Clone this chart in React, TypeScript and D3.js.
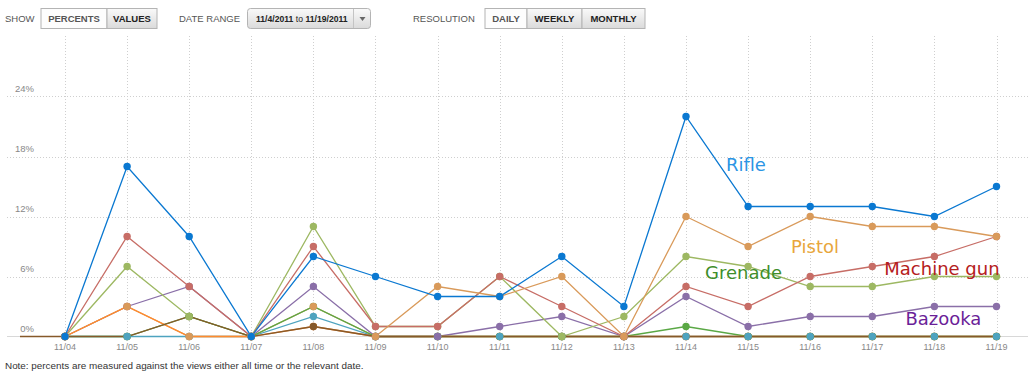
import React, { useEffect } from "react";
import * as d3 from "d3";

const dates = ["11/04","11/05","11/06","11/07","11/08","11/09","11/10","11/11","11/12","11/13","11/14","11/15","11/16","11/17","11/18","11/19"];
const yTicks = [0, 6, 12, 18, 24];

const rifle = [0,17,10,0,8,6,4,4,8,3,22,13,13,13,12,15];
const pistol = [0,3,0,0,3,0,5,4,6,0,12,9,12,11,11,10];
const machineGun = [0,10,5,0,9,1,1,6,3,0,5,3,6,7,8,10];
const grenade = [0,7,2,0,11,1,1,6,0,2,8,7,5,5,6,6];
const bazooka = [0,3,5,0,5,0,0,1,2,0,4,1,2,2,3,3];
const teal = [0,0,0,0,2,0,0,0,0,0,0,0,0,0,0,0];
const darkGreen = [0,0,2,0,3,0,0,0,0,0,1,0,0,0,0,0];
const orange = [0,3,0,0,1,0,0,0,0,0,0,0,0,0,0,0];
// brown series starts one day earlier (11/03), clipped at the left
const brown = [0,0,0,2,0,1,0,0,0,0,0,0,0,0,0,0,0];

type S = { key: string; values: number[]; start: number; color: string };
const series: S[] = [
  { key: "orange", values: orange, start: 0, color: "#ff8a2e" },
  { key: "brown", values: brown, start: -1, color: "#86592a" },
  { key: "darkGreen", values: darkGreen, start: 0, color: "#5aa845" },
  { key: "teal", values: teal, start: 0, color: "#4ea3bf" },
  { key: "bazooka", values: bazooka, start: 0, color: "#8a6fa8" },
  { key: "grenade", values: grenade, start: 0, color: "#9db862" },
  { key: "machineGun", values: machineGun, start: 0, color: "#c76d66" },
  { key: "pistol", values: pistol, start: 0, color: "#d99a5a" },
  { key: "rifle", values: rifle, start: 0, color: "#0a78d1" },
];
const lineOrder = ["teal","bazooka","grenade","machineGun","pistol","darkGreen","orange","brown","rifle"];

const labels = [
  { text: "Rifle", color: "#2b95e4", i: 10, dx: 40, v: 16.6 },
  { text: "Pistol", color: "#e8a63c", i: 11, dx: 43, v: 8.35 },
  { text: "Grenade", color: "#3f8e2b", i: 10, dx: 19, v: 5.8 },
  { text: "Machine gun", color: "#b52020", i: 13, dx: 12, v: 6.2 },
  { text: "Bazooka", color: "#6b1f98", i: 14, dx: -29, v: 1.15 },
];

export default function App() {
  useEffect(() => {
    document.body.style.margin = "0";
  }, []);
  const x = d3.scaleLinear().domain([0, dates.length - 1]).range([65, 996.5]);
  const y = d3.scaleLinear().domain([0, 30]).range([336.5, 36.5]);
  const line = d3.line<[number, number]>().x(d => x(d[0])).y(d => y(d[1]));
  const pts = (s: S) => s.values.map((v, k) => [k + s.start, v] as [number, number]);
  const byKey = (k: string) => series.find(s => s.key === k)!;
  const tickFont = "'Liberation Sans', Arial, sans-serif";

  const btn = (x0: number, w: number, text: string, selected: boolean, key: string) => (
    <g key={key}>
      <rect x={x0 + 0.5} y={8.5} width={w} height={20} fill={selected ? "#fdfdfd" : "url(#btnGrad)"} stroke="#b4b4b4" />
      <text x={x0 + 0.5 + w / 2} y={22} textAnchor="middle" fontFamily={tickFont} fontWeight="bold" fontSize={9.5} fill={selected ? "#555" : "#222"}>{text}</text>
    </g>
  );

  return (
    <svg width={1035} height={380} style={{ display: "block" }}>
      <defs>
        <linearGradient id="btnGrad" x1="0" y1="0" x2="0" y2="1">
          <stop offset="0" stopColor="#fafafa" />
          <stop offset="1" stopColor="#dadada" />
        </linearGradient>
        <clipPath id="plotClip">
          <rect x={20} y={0} width={1015} height={345} />
        </clipPath>
      </defs>
      <rect width={1035} height={380} fill="#fff" />

      {/* controls */}
      <text x={5} y={22} fontFamily={tickFont} fontSize={9.5} fill="#555">SHOW</text>
      {btn(40.5, 66, "PERCENTS", true, "p")}
      {btn(106.5, 50, "VALUES", false, "v")}
      <text x={179} y={22} fontFamily={tickFont} fontSize={9.5} fill="#555">DATE RANGE</text>
      <rect x={247.5} y={8.5} width={123} height={20} rx={3} fill="url(#btnGrad)" stroke="#b4b4b4" />
      <line x1={353.5} x2={353.5} y1={9} y2={28} stroke="#c4c4c4" />
      <text x={256} y={22} fontFamily={tickFont} fontSize={8.6} fill="#222">
        <tspan fontWeight="bold">11/4/2011</tspan>
        <tspan dx={2.5}>to</tspan>
        <tspan dx={2.5} fontWeight="bold">11/19/2011</tspan>
      </text>
      <path d="M359.5,17 L365.5,17 L362.5,21 Z" fill="#666" />
      <text x={413} y={22} fontFamily={tickFont} fontSize={9.5} fill="#555">RESOLUTION</text>
      {btn(484.5, 42, "DAILY", true, "d")}
      {btn(526.5, 55, "WEEKLY", false, "w")}
      {btn(581.5, 63, "MONTHLY", false, "m")}

      {/* grid */}
      {dates.map((d, i) => (
        <line key={"vg" + d} x1={Math.round(x(i)) + 0.5} x2={Math.round(x(i)) + 0.5} y1={36} y2={336} stroke="#cfcfcf" strokeDasharray="1,2" />
      ))}
      {yTicks.filter(t => t > 0).map(t => (
        <line key={"hg" + t} x1={7} x2={1028} y1={Math.round(y(t)) + 0.5} y2={Math.round(y(t)) + 0.5} stroke="#cfcfcf" strokeDasharray="1,2" />
      ))}
      <line x1={7} x2={1028} y1={336.5} y2={336.5} stroke="#d8d8d8" />
      {yTicks.map(t => (
        <text key={"yt" + t} x={34} y={y(t) - 4.5} textAnchor="end" fontFamily={tickFont} fontSize={9.5} fill="#888">{t}%</text>
      ))}
      {dates.map((d, i) => (
        <text key={"xt" + d} x={x(i)} y={350} textAnchor="middle" fontFamily={tickFont} fontSize={9} fill="#888">{d}</text>
      ))}

      {/* lines */}
      <g clipPath="url(#plotClip)">
        {lineOrder.map(k => {
          const s = byKey(k);
          return <path key={"l" + k} d={line(pts(s)) || ""} fill="none" stroke={s.color} strokeWidth={1.3} />;
        })}
        {series.map(s => (
          <g key={"m" + s.key}>
            {pts(s).map(p => (
              <circle key={p[0]} cx={x(p[0])} cy={y(p[1])} r={3.7} fill={s.color} />
            ))}
          </g>
        ))}
      </g>

      {/* series labels */}
      {labels.map(l => (
        <text key={l.text} x={x(l.i) + l.dx} y={y(l.v)} fontFamily="'DejaVu Sans', sans-serif" fontSize={18} fill={l.color}>{l.text}</text>
      ))}

      <text x={5} y={369} fontFamily={tickFont} fontSize={9.9} fill="#333">Note: percents are measured against the views either all time or the relevant date.</text>
    </svg>
  );
}
